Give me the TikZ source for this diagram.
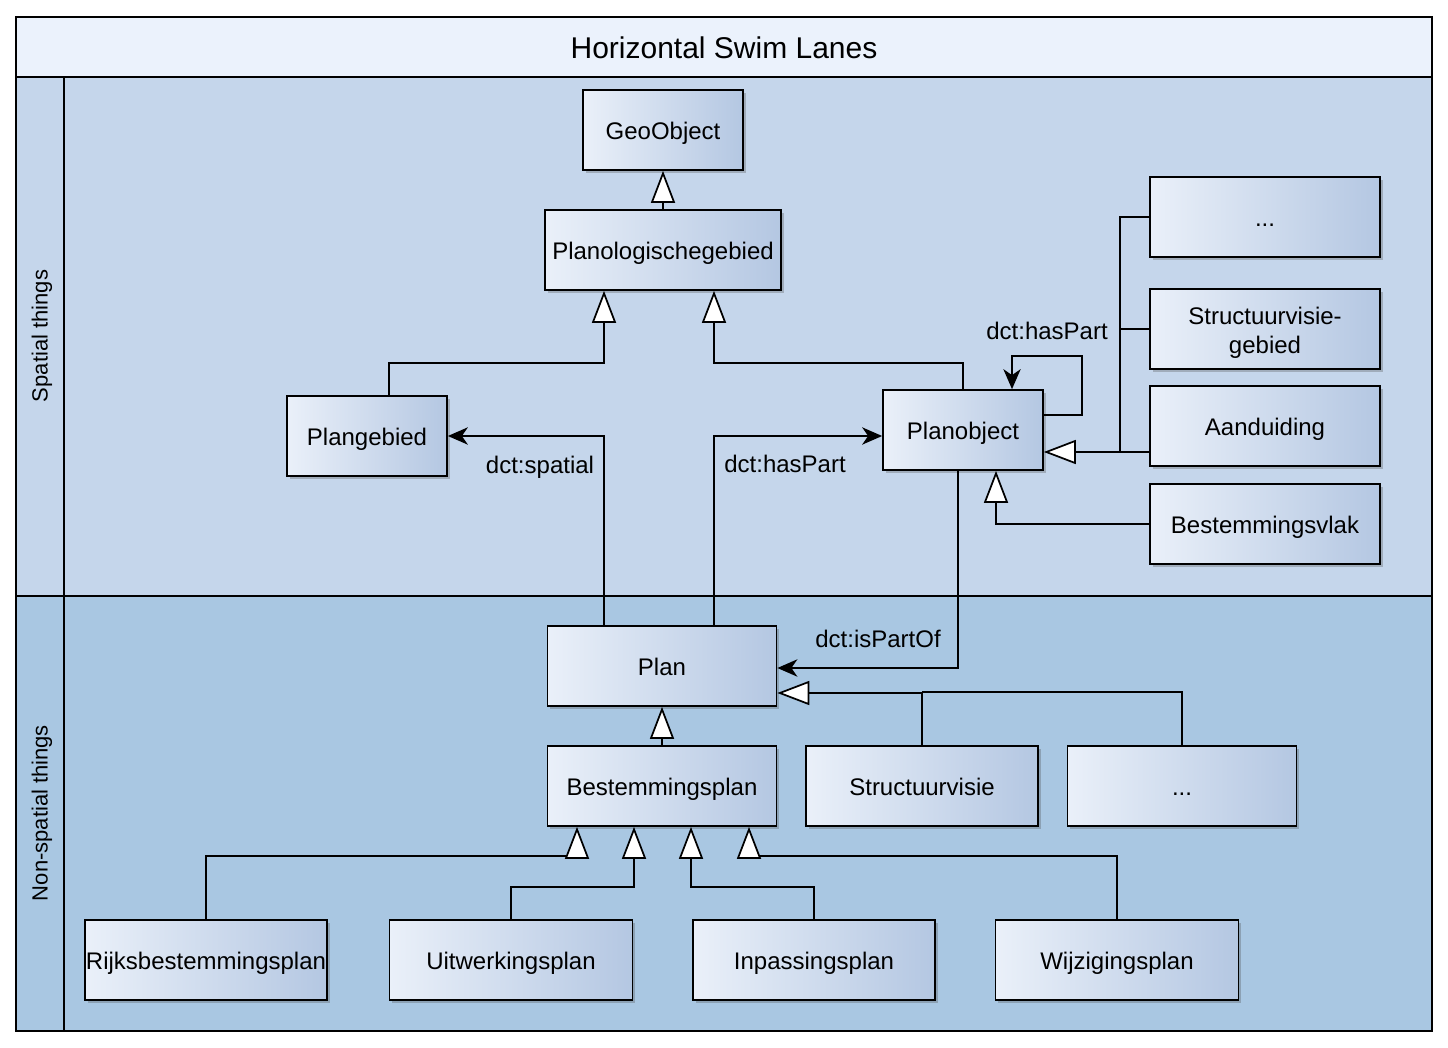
\documentclass[tikz,border=0pt]{standalone}
\usepackage{fontspec}
\setmainfont{Liberation Sans}
\usetikzlibrary{arrows.meta,calc,shadows}
\definecolor{titleF}{HTML}{EBF2FC}
\definecolor{laneA}{HTML}{C5D6EB}
\definecolor{laneB}{HTML}{A9C7E2}
\definecolor{boxL}{HTML}{EAF0F9}
\definecolor{boxR}{HTML}{B4C7E2}
\tikzset{
  umlbox/.style={draw=black, line width=1.3pt, left color=boxL, right color=boxR,
    minimum height=80*0.75pt, inner sep=2pt, align=center,
    text height=13.7pt, text depth=0pt,
    font=\fontsize{18}{21.5}\selectfont,
    drop shadow={shadow xshift=2pt, shadow yshift=-2pt, opacity=0.3, fill=black!70}},
  lanebox/.style={draw=black, line width=1.3pt},
  conn/.style={draw=black, line width=1.3pt},
  gen/.style={conn, -{Triangle[length=24pt,width=18pt,fill=white]}},
  assoc/.style={conn, -{Stealth[length=15pt,width=13pt,inset=4.5pt]}},
  lbl/.style={font=\fontsize{18}{21}\selectfont, inner sep=0pt, text height=13.7pt, text depth=0pt},
  lanelbl/.style={font=\fontsize{16.5}{20}\selectfont, rotate=90, inner sep=0pt}
}
\begin{document}
\begin{tikzpicture}[x=0.75pt,y=-0.75pt]
\useasboundingbox (0,0) rectangle (1448,1048);
% swim lanes
\fill[white] (0,0) rectangle (1448,1048);
\draw[lanebox, fill=titleF] (16,17) rectangle (1432,77);
\node[font=\fontsize{22.5}{26}\selectfont, text height=16pt, text depth=0pt] (title) at (724,48) {Horizontal Swim Lanes};
\draw[lanebox, fill=laneA] (16,77) rectangle (1432,596);
\draw[lanebox, fill=laneB] (16,596) rectangle (1432,1031);
\draw[lanebox] (64,77) -- (64,1031);
\node[lanelbl] (lane1) at (42,336) {Spatial things};
\node[lanelbl] (lane2) at (42,813) {Non-spatial things};

% nodes
\node[umlbox, minimum width=160*0.75pt] (geo) at (663,130) {GeoObject};
\node[umlbox, minimum width=236*0.75pt] (plgeb) at (663,250) {Planologischegebied};
\node[umlbox, minimum width=160*0.75pt] (plangeb) at (367,436) {Plangebied};
\node[umlbox, minimum width=160*0.75pt] (planobj) at (963,430) {Planobject};
\node[umlbox, minimum width=230*0.75pt] (dots1) at (1265,217) {...};
\node[umlbox, minimum width=230*0.75pt, text height=36.9pt, text depth=0pt] (svg) at (1265,329) {Structuurvisie-\\gebied};
\node[umlbox, minimum width=230*0.75pt] (aand) at (1265,426) {Aanduiding};
\node[umlbox, minimum width=230*0.75pt] (bvlak) at (1265,524) {Bestemmingsvlak};
\node[umlbox, minimum width=229*0.75pt] (plan) at (662,666) {Plan};
\node[umlbox, minimum width=229*0.75pt] (bplan) at (662,786) {Bestemmingsplan};
\node[umlbox, minimum width=232*0.75pt] (sv) at (922,786) {Structuurvisie};
\node[umlbox, minimum width=229*0.75pt] (dots2) at (1182,786) {...};
\node[umlbox, minimum width=242*0.75pt, inner sep=0pt] (rbp) at (206,960) {Rijksbestemmingsplan};
\node[umlbox, minimum width=243*0.75pt] (uwp) at (511,960) {Uitwerkingsplan};
\node[umlbox, minimum width=242*0.75pt] (ipp) at (814,960) {Inpassingsplan};
\node[umlbox, minimum width=243*0.75pt] (wzp) at (1117,960) {Wijzigingsplan};

% generalizations
\draw[gen] (plgeb.north) -- (geo.south);
\draw[gen] ($(plangeb.north)+(22,0)$) -- ++(0,-32) -| ($(plgeb.south)+(-59,0)$);
\draw[gen] (planobj.north) -- ++(0,-26) -| ($(plgeb.south)+(51,0)$);
\draw[conn] (dots1.west) -| ($(aand.west)+(-29,26)$);
\draw[conn] (svg.west) -- ++(-29,0);
\draw[gen] ($(aand.west)+(0,26)$) -- ($(planobj.east)+(0,22)$);
\draw[gen] (bvlak.west) -| ($(planobj.south)+(33,0)$);
\draw[gen] (bplan.north) -- (plan.south);
\draw[gen] (sv.north) |- ($(plan.east)+(0,27)$);
\draw[conn] (dots2.north) |- ($(sv.north)+(0,-53)$);
\draw[gen] (rbp.north) -- ++(0,-63) -| ($(bplan.south)+(-85,0)$);
\draw[gen] (uwp.north) -- ++(0,-32) -| ($(bplan.south)+(-28,0)$);
\draw[gen] (ipp.north) -- ++(0,-32) -| ($(bplan.south)+(29,0)$);
\draw[gen] (wzp.north) -- ++(0,-63) -| ($(bplan.south)+(87,0)$);

% associations
\draw[assoc] ($(plan.north)+(-58,0)$) |- (plangeb.east);
\draw[assoc] ($(plan.north)+(52,0)$) |- ($(planobj.west)+(0,6)$);
\draw[assoc] ($(planobj.east)+(0,-15)$) -- ++(38,0) -- ++(0,-59) -| ($(planobj.north)+(49,0)$);
\draw[assoc] ($(planobj.south)+(-5,0)$) |- ($(plan.east)+(0,2)$);

% labels
\node[lbl] (l1) at (540,464) {dct:spatial};
\node[lbl] (l2) at (785,463) {dct:hasPart};
\node[lbl] (l3) at (1047,330) {dct:hasPart};
\node[lbl] (l4) at (878,638) {dct:isPartOf};
\end{tikzpicture}
\end{document}
